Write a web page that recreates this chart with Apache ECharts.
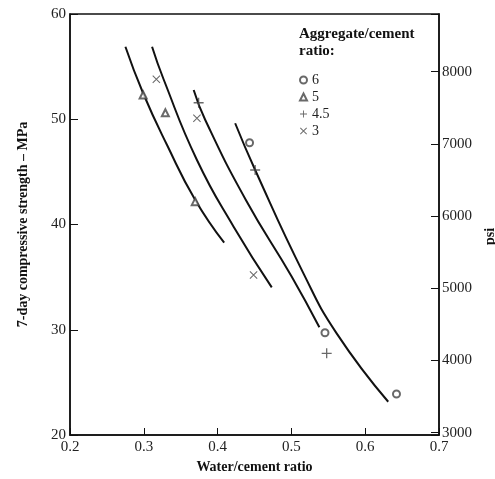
<!DOCTYPE html>
<html>
<head>
<meta charset="utf-8">
<script src="https://cdn.jsdelivr.net/npm/echarts@6/dist/echarts.min.js"></script>
<style>
html,body{margin:0;padding:0;background:#fff;}
#chart{width:495px;height:479px;}
</style>
</head>
<body>
<div id="chart"></div>
<script>
// Fitted curves (water/cement ratio, MPa)
const curve1 = [[0.2751,56.89],[0.2991,52.47],[0.3315,47.55],[0.3697,42.33],[0.4089,38.27]];
const curve2 = [[0.3112,56.89],[0.3268,53.80],[0.3720,46.13],[0.4217,39.79],[0.4734,34.03]];
const curve3 = [[0.3676,52.78],[0.3833,49.93],[0.4383,42.33],[0.5005,35.04],[0.5379,30.23]];
const curve4 = [[0.4238,49.62],[0.4509,45.18],[0.5163,35.36],[0.5613,29.66],[0.6312,23.16]];

// Measured points by aggregate/cement ratio
const pts6  = [[0.4433,47.77],[0.5455,29.72],[0.6424,23.90]];
const pts5  = [[0.2991,52.30],[0.3292,50.62],[0.3697,42.17]];
const pts45 = [[0.3743,51.57],[0.4509,45.18],[0.5478,27.76]];
const pts3  = [[0.3170,53.80],[0.3720,50.09],[0.4487,35.20]];

const xTicks = [0.2,0.3,0.4,0.5,0.6,0.7];
const mpaRange = [20,60];
const psiRange = [2968,8799];   // right-hand scale as drawn in the figure

const serif = '"Liberation Serif", "DejaVu Serif", serif';
const plusPath  = 'path://M4.35,0H5.65V10H4.35Z M0,4.35H10V5.65H0Z';
const crossPath = 'path://M0,0.9L0.9,0L10,9.1L9.1,10Z M9.1,0L10,0.9L0.9,10L0,9.1Z';
const mk = '#444';

const chart = echarts.init(document.getElementById('chart'));
const lineSeries = (d) => ({
  type:'line', data:d, smooth:0.5, showSymbol:false, symbol:'none',
  lineStyle:{color:'#111', width:2}, silent:true, z:2
});
chart.setOption({
  animation:false,
  backgroundColor:'#fff',
  title:{
    text:'Aggregate/cement\nratio:',
    left:294, top:21,
    textStyle:{fontFamily:serif, fontWeight:'bold', fontSize:15, lineHeight:17, color:'#111'}
  },
  legend:{
    orient:'vertical', left:299, top:73, itemWidth:7, itemHeight:7, itemGap:3,
    padding:0,
    textStyle:{fontFamily:serif, fontSize:14, color:'#222'},
    itemStyle:{borderWidth:0.9},
    data:[
      {name:'6', icon:'emptyCircle'},
      {name:'5', icon:'emptyTriangle'},
      {name:'4.5', icon:plusPath},
      {name:'3', icon:crossPath}
    ]
  },
  grid:{left:70, right:56, top:14, bottom:44, show:true, borderColor:'#111', borderWidth:1.5,
        outerBoundsMode:'none', containLabel:false},
  xAxis:{
    type:'value', min:xTicks[0], max:xTicks[xTicks.length-1], interval:0.1,
    name:'Water/cement ratio', nameLocation:'middle', nameGap:25,
    nameTextStyle:{fontFamily:serif, fontWeight:'bold', fontSize:14, color:'#111'},
    axisLine:{lineStyle:{color:'#111', width:1.5}},
    axisTick:{inside:true, length:7, lineStyle:{color:'#111'}},
    axisLabel:{fontFamily:serif, fontSize:15, color:'#222', margin:5, formatter:v=>v.toFixed(1)},
    splitLine:{show:false}
  },
  yAxis:[{
    type:'value', min:mpaRange[0], max:mpaRange[1], interval:10,
    name:'7-day compressive strength \u2013 MPa', nameLocation:'middle', nameGap:40,
    nameTextStyle:{fontFamily:serif, fontWeight:'bold', fontSize:14, color:'#111'},
    axisLine:{show:true, lineStyle:{color:'#111', width:1.5}},
    axisTick:{show:true, inside:true, length:8, lineStyle:{color:'#111'}},
    axisLabel:{fontFamily:serif, fontSize:15, color:'#222', margin:4},
    splitLine:{show:false}
  },{
    type:'value', position:'right',
    min:psiRange[0], max:psiRange[1], splitNumber:5,
    name:'psi', nameLocation:'middle', nameGap:41, nameRotate:90,
    nameTextStyle:{fontFamily:serif, fontWeight:'bold', fontSize:14, color:'#111', padding:[0,24,0,0]},
    axisLine:{show:true, lineStyle:{color:'#111', width:1.5}},
    axisTick:{show:true, inside:true, length:8, lineStyle:{color:'#111'}},
    axisLabel:{fontFamily:serif, fontSize:15, color:'#222', margin:3,
      formatter:v=> (Math.abs(v%1000)<1e-6 ? String(v) : '')},
    splitLine:{show:false}
  }],
  series:[
    lineSeries(curve1), lineSeries(curve2), lineSeries(curve3), lineSeries(curve4),
    {name:'6', type:'scatter', data:pts6, symbol:'emptyCircle', symbolSize:7,
     itemStyle:{color:mk, borderColor:mk, borderWidth:1.1}, z:3},
    {name:'5', type:'scatter', data:pts5, symbol:'emptyTriangle', symbolSize:7,
     itemStyle:{color:mk, borderColor:mk, borderWidth:1.1}, z:3},
    {name:'4.5', type:'scatter', data:pts45, symbol:plusPath, symbolSize:10,
     itemStyle:{color:mk}, z:3},
    {name:'3', type:'scatter', data:pts3, symbol:crossPath, symbolSize:8,
     itemStyle:{color:mk}, z:3}
  ]
});
</script>
</body>
</html>
